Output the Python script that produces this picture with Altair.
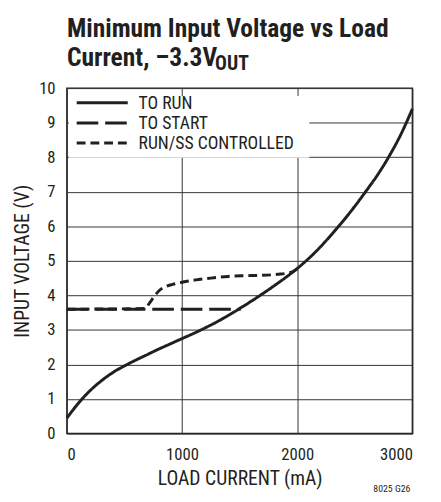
import altair as alt
import pandas as pd

FONT = "Roboto Condensed, Liberation Sans Narrow, Arial Narrow, Roboto, sans-serif"
INK = "#231f20"

# ---- data ----
series_names = ["TO RUN", "TO START", "RUN/SS CONTROLLED"]

run_ma = [0, 100, 200, 300, 400, 500, 600, 700, 800, 900, 1000, 1100, 1200, 1300, 1400,
          1500, 1600, 1700, 1800, 1900, 2000, 2100, 2200, 2300, 2400, 2500, 2600, 2700,
          2800, 2900, 3000]
run_v = [0.45, 0.88, 1.24, 1.53, 1.77, 1.96, 2.13, 2.29, 2.45, 2.60, 2.75, 2.90, 3.06,
         3.23, 3.42, 3.62, 3.83, 4.05, 4.28, 4.52, 4.78, 5.07, 5.40, 5.77, 6.16, 6.58,
         7.03, 7.50, 8.04, 8.66, 9.40]

start_ma = [0, 1510]
start_v = [3.6, 3.6]

ss_ma = [0, 677, 720, 760, 805, 860, 918, 1000, 1119, 1250, 1402, 1550, 1685, 1828, 1950, 2010]
ss_v = [3.6, 3.62, 3.79, 3.98, 4.15, 4.26, 4.32, 4.38, 4.45, 4.50, 4.55, 4.57, 4.58, 4.61, 4.67, 4.80]

x_ticks = [0, 1000, 2000, 3000]
y_ticks = [0, 1, 2, 3, 4, 5, 6, 7, 8, 9, 10]

title_line1 = "Minimum Input Voltage vs Load"
title_line2 = "Current, –3.3V"
title_sub = "OUT"
footnote = "8025 G26"

rows = []
for name, xs, ys in [(series_names[0], run_ma, run_v),
                     (series_names[1], start_ma, start_v),
                     (series_names[2], ss_ma, ss_v)]:
    for i, (a, b) in enumerate(zip(xs, ys)):
        rows.append({"series": name, "ma": a, "v": b, "order": i})
df = pd.DataFrame(rows)

dash_range = [[1, 0], [22, 7], [9, 5]]

x = alt.X("ma:Q", scale=alt.Scale(domain=[0, 3000], nice=False),
          axis=alt.Axis(values=x_ticks, format="d", title="LOAD CURRENT (mA)",
                        labelPadding=13, titleY=46, titleBaseline="middle"))
y = alt.Y("v:Q", scale=alt.Scale(domain=[0, 10], nice=False),
          axis=alt.Axis(values=y_ticks, format="d", title="INPUT VOLTAGE (V)",
                        labelPadding=12, titleX=-45, titleY=176,
                        titleBaseline="middle", titleAngle=-90))

lines = alt.Chart(df).mark_line(strokeWidth=3, color=INK, interpolate="monotone",
                                strokeCap="butt").encode(
    x=x, y=y,
    strokeDash=alt.StrokeDash("series:N", scale=alt.Scale(domain=series_names, range=dash_range),
                              legend=None),
    detail="series:N",
    order="order:Q",
)

one = pd.DataFrame({"k": [0]})

legend_bg = alt.Chart(one).mark_rect(fill="white").encode(
    x=alt.value(2), x2=alt.value(247), y=alt.value(8), y2=alt.value(71))

legend_layers = []
for i, name in enumerate(series_names):
    yy = 15 + 20.5 * i
    legend_layers.append(
        alt.Chart(one).mark_rule(color=INK, strokeWidth=3, strokeDash=dash_range[i],
                                 strokeCap="butt").encode(
            x=alt.value(10), x2=alt.value(62), y=alt.value(yy)))
    legend_layers.append(
        alt.Chart(one).mark_text(font=FONT, fontSize=18, color=INK, align="left",
                                 baseline="middle").encode(
            x=alt.value(73), y=alt.value(yy + 1), text=alt.value(name)))

t1 = alt.Chart(one).mark_text(font=FONT, fontSize=26, fontWeight="bold", color=INK,
                              align="left", baseline="alphabetic").encode(
    x=alt.value(0), y=alt.value(-52), text=alt.value(title_line1))
t2 = alt.Chart(one).mark_text(font=FONT, fontSize=26, fontWeight="bold", color=INK,
                              align="left", baseline="alphabetic").encode(
    x=alt.value(0), y=alt.value(-23), text=alt.value(title_line2))
t3 = alt.Chart(one).mark_text(font=FONT, fontSize=20, fontWeight="bold", color=INK,
                              align="left", baseline="alphabetic").encode(
    x=alt.value(151), y=alt.value(-18), text=alt.value(title_sub))
fn = alt.Chart(one).mark_text(font=FONT, fontSize=10, color=INK,
                              align="right", baseline="alphabetic").encode(
    x=alt.value(350), y=alt.value(411), text=alt.value(footnote))

chart = alt.layer(legend_bg, lines, *legend_layers, t1, t2, t3, fn).properties(
    width=352, height=352,
    autosize=alt.AutoSizeParams(type="none"),
    padding={"left": 60, "top": 77, "right": 21, "bottom": 62},
    background="white",
).configure_view(
    stroke=INK, strokeWidth=1.5,
).configure_axis(
    grid=True, gridColor="#333333", gridWidth=1, gridOpacity=1,
    domain=False, ticks=False,
    labelFont=FONT, labelFontSize=17, labelColor=INK,
    titleFont=FONT, titleFontSize=20, titleFontWeight="normal", titleColor=INK,
)

chart.save("out.html", embed_options={"renderer": "svg", "actions": False})
